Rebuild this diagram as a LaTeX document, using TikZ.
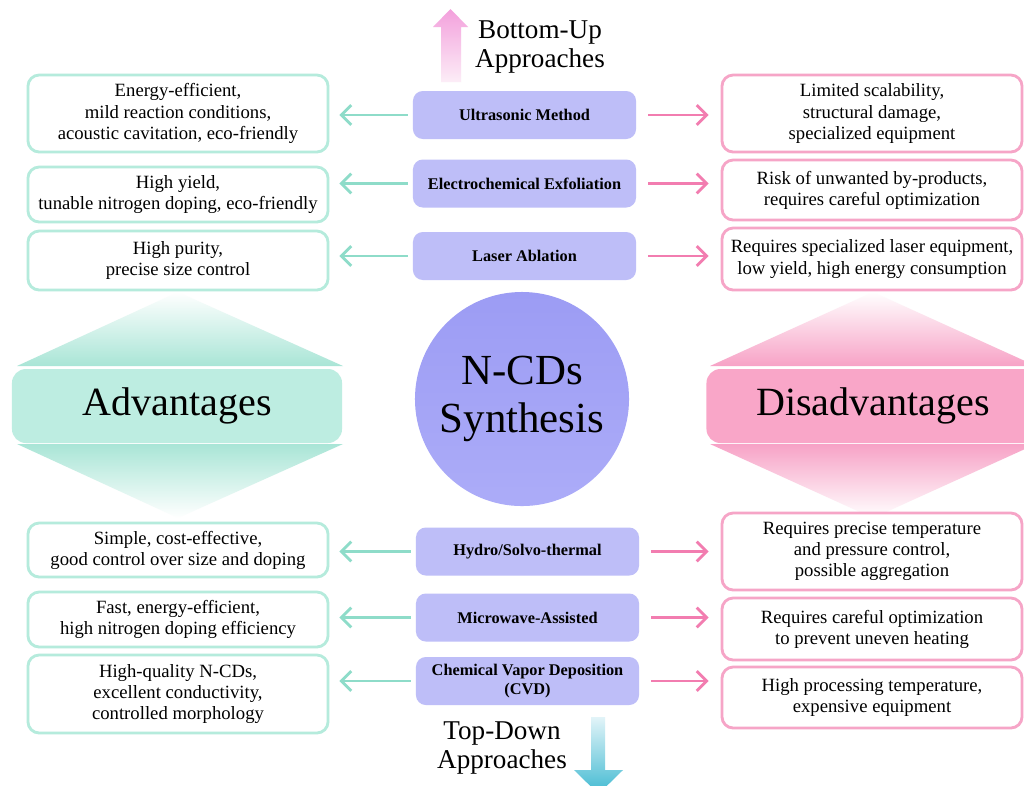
\documentclass[tikz,border=0pt]{standalone}
\usepackage{fontspec}
\setmainfont{Liberation Serif}
\usetikzlibrary{arrows.meta}

\definecolor{proline}{HTML}{B5EBDC}
\definecolor{proarrow}{HTML}{8EDCC9}
\definecolor{conline}{HTML}{F6A5C7}
\definecolor{conarrow}{HTML}{F27DB0}
\definecolor{methodfill}{HTML}{BEBEF8}
\definecolor{coretop}{HTML}{9C9CF4}
\definecolor{corebottom}{HTML}{ACACF8}
\definecolor{advfill}{HTML}{BDEDE1}
\definecolor{advtri}{HTML}{A9E5D6}
\definecolor{disfill}{HTML}{F9A6C8}
\definecolor{distri}{HTML}{F7A2C6}
\definecolor{uptop}{HTML}{F3A0DC}
\definecolor{upbottom}{HTML}{FCEDF7}
\definecolor{downtop}{HTML}{E2F4F8}
\definecolor{downbottom}{HTML}{42BAD2}

\begin{document}
\begin{tikzpicture}[x=0.025cm,y=-0.025cm,
                pro/.style={draw=proline,line width=2pt,rounded corners=8pt,fill=white,
                    align=center,minimum width=7.5cm,inner sep=2pt,
                    font=\fontsize{13.3}{15}\selectfont},
                con/.style={pro,draw=conline},
                method/.style={fill=methodfill,rounded corners=7pt,minimum width=5.575cm,
                    minimum height=1.2cm,align=center,inner sep=1pt,
                    font=\bfseries\fontsize{11.6}{14}\selectfont},
                toA/.style={draw=proarrow,line width=2pt,shorten <=0.12cm,shorten >=0.25cm,
                    -{Straight Barb[length=7pt,width=14pt]}},
                toD/.style={draw=conarrow,line width=2pt,shorten <=0.3cm,shorten >=0.3cm,
                    -{Straight Barb[length=7pt,width=14pt]}},
                heading/.style={align=center,font=\fontsize{19.3}{21.3}\selectfont},
                banner/.style={rounded corners=10pt,minimum height=1.85cm,
                    font=\fontsize{28.5}{34}\selectfont}
                ]
            \useasboundingbox (0,0) rectangle (1024,785);
            \fill[white] (0,0) rectangle (1024,785);
            \clip (0,0) rectangle (1024,785);

            % approach arrows
            \shade[top color=uptop,bottom color=upbottom]
                (441,82) -- (441,27) -- (433,27) -- (450.5,9) -- (468,27) -- (461,27) -- (461,82) -- cycle;
            \shade[top color=downtop,bottom color=downbottom]
                (591,717) -- (591,770) -- (574,770) -- (598.5,794) -- (623,770) -- (605,770) -- (605,717) -- cycle;
            \node[heading] (bottomup) at (540,47) {Bottom-Up\\Approaches};
            \node[heading] (topdown) at (502,748) {Top-Down\\Approaches};

            % advantages banner
            \shade[top color=white,bottom color=advtri] (17,366) -- (178,292) -- (343,366) -- cycle;
            \shade[top color=advtri,bottom color=white] (17,444) -- (178,518) -- (343,444) -- cycle;
            \node[banner,fill=advfill,minimum width=8.25cm] (adv) at (177,406) {Advantages};

            % disadvantages banner
            \shade[top color=white,bottom color=distri] (710,366) -- (873,292) -- (1036,366) -- cycle;
            \shade[top color=distri,bottom color=white] (710,444) -- (873,518) -- (1036,444) -- cycle;
            \node[banner,fill=disfill,minimum width=8.325cm] (dis) at (873,406) {Disadvantages};

            % centre
            \node[circle,minimum size=5.35cm,top color=coretop,bottom color=corebottom,
                align=center,font=\fontsize{30.5}{34}\selectfont] (core) at (522,399) {N-CDs\\Synthesis};

            % methods
            \node[method] (ultra) at (524.5,115) {Ultrasonic Method};
            \node[method] (electro) at (524.5,183.5) {Electrochemical Exfoliation};
            \node[method] (laser) at (524.5,256) {Laser Ablation};
            \node[method] (hydro) at (527.5,551.5) {Hydro/Solvo-thermal};
            \node[method] (micro) at (527.5,617.5) {Microwave-Assisted};
            \node[method] (cvd) at (527.5,681) {Chemical Vapor Deposition\\(CVD)};

            % advantages
            \node[pro,minimum height=1.925cm] (ultraA) at (178,113.5) {Energy-efficient,\\mild reaction conditions,\\acoustic cavitation, eco-friendly};
            \node[pro,minimum height=1.375cm] (electroA) at (178,194.5) {High yield,\\tunable nitrogen doping, eco-friendly};
            \node[pro,minimum height=1.475cm] (laserA) at (178,260.5) {High purity,\\precise size control};
            \node[pro,minimum height=1.35cm] (hydroA) at (178,550) {Simple, cost-effective,\\good control over size and doping};
            \node[pro,minimum height=1.375cm] (microA) at (178,619.5) {Fast, energy-efficient,\\high nitrogen doping efficiency};
            \node[pro,minimum height=1.95cm] (cvdA) at (178,694) {High-quality N-CDs,\\excellent conductivity,\\controlled morphology};

            % disadvantages
            \node[con,minimum height=1.925cm] (ultraD) at (872,113.5) {Limited scalability,\\structural damage,\\specialized equipment};
            \node[con,minimum height=1.5cm] (electroD) at (872,190) {Risk of unwanted by-products,\\requires careful optimization};
            \node[con,minimum height=1.55cm] (laserD) at (872,259) {Requires specialized laser equipment,\\low yield, high energy consumption};
            \node[con,minimum height=1.925cm] (hydroD) at (872,551.5) {Requires precise temperature\\and pressure control,\\possible aggregation};
            \node[con,minimum height=1.55cm] (microD) at (872,629) {Requires careful optimization\\to prevent uneven heating};
            \node[con,minimum height=1.525cm] (cvdD) at (872,697.5) {High processing temperature,\\expensive equipment};

            \draw[toA] (ultra) to (ultra -| ultraA.east);
            \draw[toA] (electro) to (electro -| electroA.east);
            \draw[toA] (laser) to (laser -| laserA.east);
            \draw[toA] (hydro) to (hydro -| hydroA.east);
            \draw[toA] (micro) to (micro -| microA.east);
            \draw[toA] (cvd) to (cvd -| cvdA.east);

            \draw[toD] (ultra) to (ultra -| ultraD.west);
            \draw[toD] (electro) to (electro -| electroD.west);
            \draw[toD] (laser) to (laser -| laserD.west);
            \draw[toD] (hydro) to (hydro -| hydroD.west);
            \draw[toD] (micro) to (micro -| microD.west);
            \draw[toD] (cvd) to (cvd -| cvdD.west);

            \end{tikzpicture}
\end{document}
